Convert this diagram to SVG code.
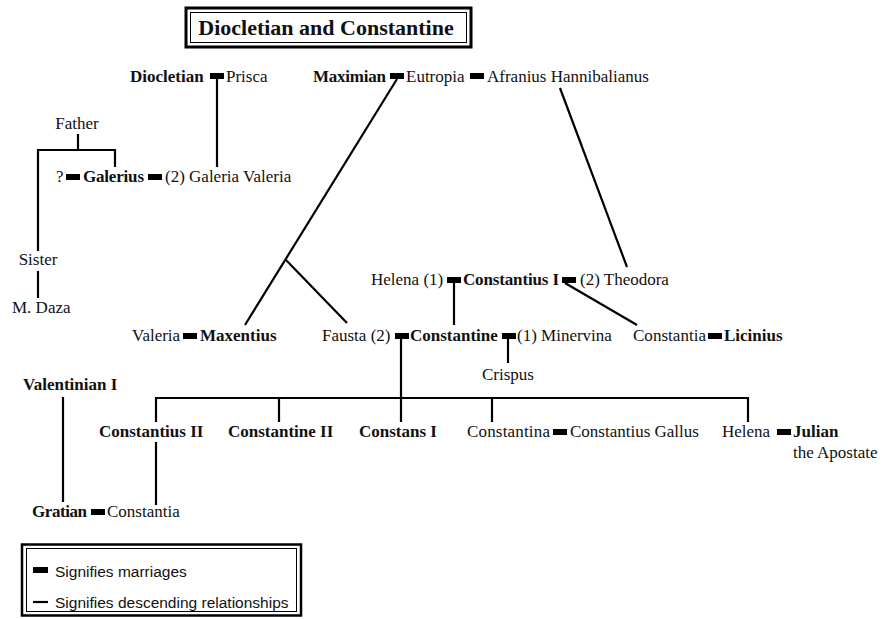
<svg xmlns="http://www.w3.org/2000/svg" width="886" height="619" viewBox="0 0 886 619">
<style>
text{font-family:"Liberation Serif","Times New Roman",serif;font-size:17px;fill:#111}
.b{font-weight:bold}
.leg{font-family:"Liberation Sans",Arial,sans-serif;font-size:15.5px}
.ln{stroke:#000;stroke-width:2.2;fill:none}
.bar{fill:#000}
.frame{fill:none;stroke:#000}
</style>
<defs>
<rect id="m" class="bar" x="0" y="0" width="14" height="6"/>
</defs>
<rect width="886" height="619" fill="#fff"/>
<g id="title">
<rect class="frame" x="186" y="8" width="285" height="39" stroke-width="3"/>
<rect class="frame" x="190.5" y="12.5" width="276" height="30" stroke-width="1"/>
<text class="b" x="326" y="35" text-anchor="middle" style="font-size:22px">Diocletian and Constantine</text>
</g>
<g id="connectors">
<line class="ln" x1="217" y1="77" x2="217" y2="167"/>
<line class="ln" x1="397" y1="79" x2="245" y2="325"/>
<line class="ln" x1="286" y1="260" x2="347" y2="323"/>
<line class="ln" x1="560" y1="88" x2="627" y2="267"/>
<polyline class="ln" points="78,134 78,150"/>
<polyline class="ln" points="38,251 38,150 115,150 115,167"/>
<line class="ln" x1="38" y1="271" x2="38" y2="298"/>
<line class="ln" x1="454" y1="280" x2="454" y2="325"/>
<line class="ln" x1="565" y1="283" x2="637" y2="325"/>
<line class="ln" x1="401" y1="336" x2="401" y2="422"/>
<polyline class="ln" points="156,422 156,398 748,398 748,422"/>
<line class="ln" x1="279" y1="398" x2="279" y2="422"/>
<line class="ln" x1="492" y1="398" x2="492" y2="422"/>
<line class="ln" x1="508" y1="336" x2="508" y2="363"/>
<line class="ln" x1="63" y1="397" x2="63" y2="502"/>
<line class="ln" x1="156" y1="442" x2="156" y2="505"/>
<use href="#m" x="210" y="73"/>
<use href="#m" x="390" y="73"/>
<use href="#m" x="470" y="73"/>
<use href="#m" x="66" y="174"/>
<use href="#m" x="148" y="174"/>
<use href="#m" x="447" y="277"/>
<use href="#m" x="562" y="277"/>
<use href="#m" x="183" y="333"/>
<use href="#m" x="395" y="333"/>
<use href="#m" x="502" y="333"/>
<use href="#m" x="708" y="333"/>
<use href="#m" x="553" y="429"/>
<use href="#m" x="777" y="429"/>
<use href="#m" x="91" y="509"/>
</g>
<g id="diocletian"><text class="b" x="130" y="82">Diocletian</text></g>
<g id="prisca"><text x="226" y="82">Prisca</text></g>
<g id="maximian"><text class="b" x="313" y="82" textLength="73">Maximian</text></g>
<g id="eutropia"><text x="406" y="82">Eutropia</text></g>
<g id="afranius"><text x="487" y="82">Afranius Hannibalianus</text></g>
<g id="father"><text x="77" y="129" text-anchor="middle">Father</text></g>
<g id="unknown-wife"><text x="56" y="182">?</text></g>
<g id="galerius"><text class="b" x="83" y="182" textLength="61">Galerius</text></g>
<g id="galeria-valeria"><text x="165" y="182">(2) Galeria Valeria</text></g>
<g id="sister"><text x="38" y="265" text-anchor="middle">Sister</text></g>
<g id="m-daza"><text x="12" y="313">M. Daza</text></g>
<g id="helena1"><text x="371" y="285">Helena (1)</text></g>
<g id="constantius1"><text class="b" x="463" y="285" textLength="96">Constantius I</text></g>
<g id="theodora"><text x="580" y="285">(2) Theodora</text></g>
<g id="valeria"><text x="132" y="341">Valeria</text></g>
<g id="maxentius"><text class="b" x="200" y="341">Maxentius</text></g>
<g id="fausta"><text x="322" y="341">Fausta (2)</text></g>
<g id="constantine"><text class="b" x="410" y="341">Constantine</text></g>
<g id="minervina"><text x="517" y="341">(1) Minervina</text></g>
<g id="constantia"><text x="633" y="341" textLength="73">Constantia</text></g>
<g id="licinius"><text class="b" x="724" y="341">Licinius</text></g>
<g id="crispus"><text x="482" y="380">Crispus</text></g>
<g id="valentinian1"><text class="b" x="23" y="390">Valentinian I</text></g>
<g id="constantius2"><text class="b" x="99" y="437">Constantius II</text></g>
<g id="constantine2"><text class="b" x="228" y="437">Constantine II</text></g>
<g id="constans1"><text class="b" x="359" y="437">Constans I</text></g>
<g id="constantina"><text x="467" y="437" textLength="83">Constantina</text></g>
<g id="gallus"><text x="570" y="437">Constantius Gallus</text></g>
<g id="helena2"><text x="722" y="437">Helena</text></g>
<g id="julian"><text class="b" x="793" y="437">Julian</text><text x="793" y="458">the Apostate</text></g>
<g id="gratian"><text class="b" x="32" y="517" textLength="55">Gratian</text></g>
<g id="constantia2"><text x="107" y="517">Constantia</text></g>
<g id="legend">
<rect class="frame" x="22" y="544.5" width="279" height="71" stroke-width="2.5"/>
<rect class="frame" x="26.5" y="548.5" width="270" height="63" stroke-width="1"/>
<rect class="bar" x="33" y="567" width="15" height="6"/>
<text class="leg" x="55" y="577">Signifies marriages</text>
<line class="ln" x1="33" y1="602" x2="48" y2="602"/>
<text class="leg" x="55" y="608">Signifies descending relationships</text>
</g>
</svg>
